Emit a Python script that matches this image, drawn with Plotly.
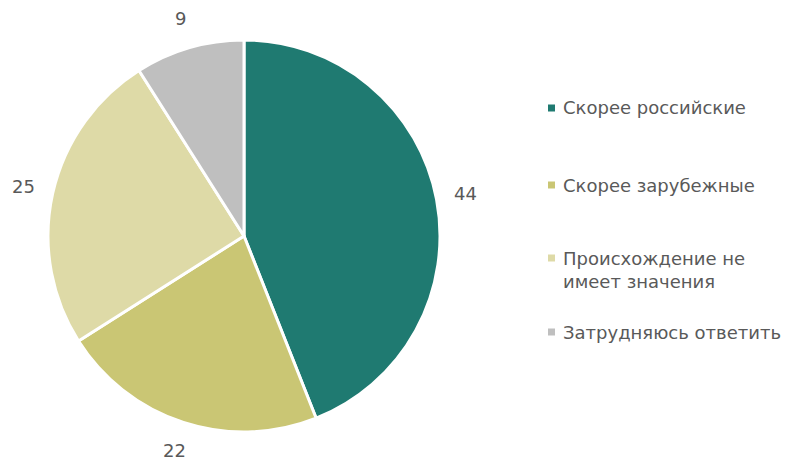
import math
import plotly.graph_objects as go

labels = ["Скорее российские", "Скорее зарубежные", "Происхождение не<br>имеет значения", "Затрудняюсь ответить"]
values = [44, 22, 25, 9]
colors = ["#1F7A71", "#CAC674", "#DEDAA7", "#BFBFBF"]
legend_y_px = [108, 185, 270, 332]

W, H = 789, 460
cx, cy, R = 244, 236, 196
FONT = "DejaVu Sans"

fig = go.Figure(go.Pie(
    labels=labels, values=values, sort=False, direction="clockwise", rotation=0,
    marker=dict(colors=colors, line=dict(color="white", width=3)),
    textinfo="none", hoverinfo="label+value", showlegend=False,
    domain=dict(x=[(cx - R) / W, (cx + R) / W], y=[1 - (cy + R) / H, 1 - (cy - R) / H]),
))

annotations = []
total = sum(values)
cum = 0
for v in values:
    mid = (cum + v / 2) / total * 2 * math.pi
    cum += v
    d = R + 30
    x = cx + d * math.sin(mid)
    y = cy - d * math.cos(mid)
    annotations.append(dict(x=x / W, y=1 - y / H, xref="paper", yref="paper", text=str(v),
                            showarrow=False, font=dict(size=18, color="#595959", family=FONT),
                            xanchor="center", yanchor="middle"))

shapes = []
for lab, col, ypx in zip(labels, colors, legend_y_px):
    sq_y = ypx if "<br>" not in lab else ypx - 12
    shapes.append(dict(type="rect", xref="paper", yref="paper",
                       x0=548 / W, x1=555 / W, y0=1 - (sq_y + 3.5) / H, y1=1 - (sq_y - 3.5) / H,
                       fillcolor=col, line=dict(width=0)))
    annotations.append(dict(x=561 / W, y=1 - ypx / H, xref="paper", yref="paper", text=lab,
                            showarrow=False, align="left", xanchor="left", yanchor="middle",
                            font=dict(size=18, color="#595959", family=FONT)))

fig.update_layout(width=W, height=H, margin=dict(l=0, r=0, t=0, b=0),
                  paper_bgcolor="white", plot_bgcolor="white",
                  annotations=annotations, shapes=shapes)
fig.write_html("out.html", config={"displayModeBar": False},
               post_script="document.body.style.margin='0';document.body.style.padding='0';")
